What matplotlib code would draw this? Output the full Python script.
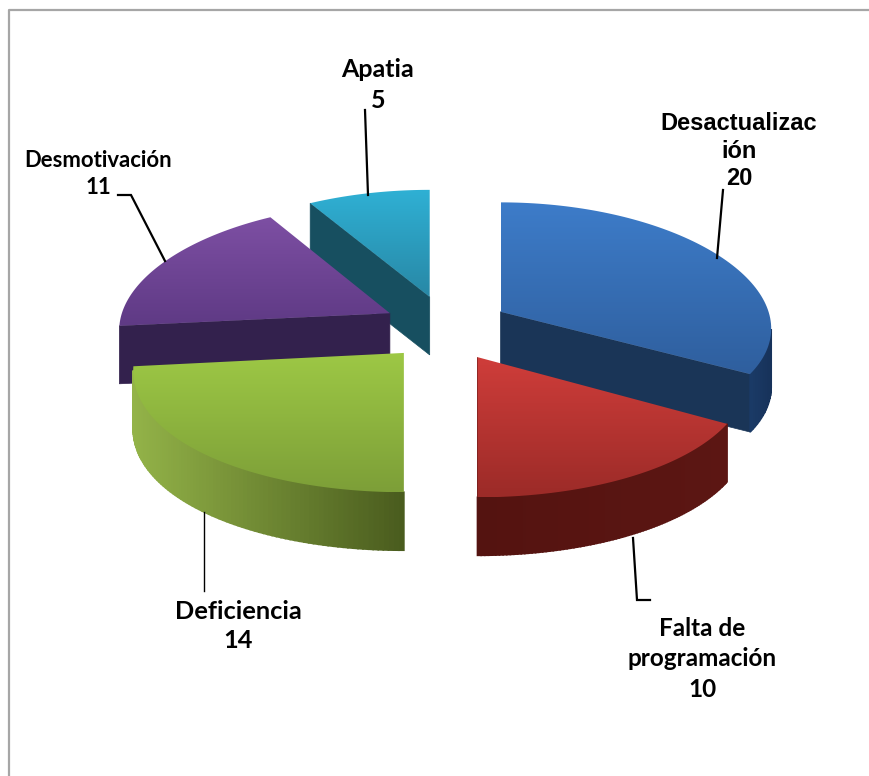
import numpy as np
import matplotlib
matplotlib.use('Agg')
import matplotlib.pyplot as plt
from matplotlib.colors import to_rgb, LinearSegmentedColormap
from matplotlib.patches import Polygon

categories = ['Desactualización', 'Falta de programación', 'Deficiencia', 'Desmotivación', 'Apatia']
values = [20, 10, 14, 11, 5]

# top surface (light, dark), wall at left and right end of the arc, flat cut wall
top_colors = [('#3d7cc9', '#2f5f9e'), ('#cf3d3a', '#9c2b28'), ('#9dc845', '#7d9f38'),
              ('#7d4fa3', '#5f3a85'), ('#2fb0d4', '#2888a6')]
arc_colors = [('#1a3a66', '#17325a'), ('#541310', '#5c1613'), ('#93b348', '#4a5c1e'),
              ('#33214d', '#33214d'), ('#174f60', '#174f60')]
cut_colors = ['#1a3557', '#5a1512', '#4a5c1e', '#33214d', '#174f60']

# label text, centre in pixels
label_text = ['Desactualizac\nión\n20', 'Falta de\nprogramación\n10', 'Deficiencia\n14', 'Desmotivación\n11', 'Apatia\n5']
label_pos = [(739, 151), (702, 659), (238, 626), (98, 174), (378, 85)]
label_size = [17, 17.5, 18.3, 15.9, 18]
label_space = [1.27, 1.4, 1.3, 1.3, 1.4]
leaders = [[(723, 190), (717, 258)],
           [(633, 538), (637, 600), (650, 600)],
           [(204, 512), (204, 591)],
           [(118, 195), (131, 195), (165, 261)],
           [(365, 110), (368, 195)]]
leader_lw = [1.6, 1.6, 1.0, 1.6, 1.6]

cx, cy = 446, 328
R, ry = 268, 122
k, kx = 0.09, 0.14
explode_x, explode_y = 0.235, 0.27
depth = 58

fig = plt.figure(figsize=(8.69, 7.76), dpi=100)
ax = fig.add_axes([0, 0, 1, 1])
ax.set_xlim(0, 869)
ax.set_ylim(776, 0)
ax.axis('off')

# frame of the screenshot
ax.plot([9, 9, 869], [776, 10, 10], color='#a6a6a6', lw=1.6)

# angles clockwise from the top
total = sum(values)
ends = np.cumsum(values) / total * 2 * np.pi
starts = ends - np.array(values) / total * 2 * np.pi
mids = (starts + ends) / 2


def wall(x0, y0, x1, y1, col, lw=0.0):
    # an edge shows if it runs leftwards on the clockwise outline
    if x1 < x0:
        ax.add_patch(Polygon([(x0, y0), (x1, y1), (x1, y1 + depth), (x0, y0 + depth)],
                             fc=col, ec=col, lw=lw, zorder=2))


for i in np.argsort(-np.cos(mids)):
    ey = explode_y * np.cos(mids[i])
    tx = cx + R * explode_x * np.sin(mids[i])
    ty = cy - ry * ey / (1 + k * ey)

    a = np.linspace(starts[i], ends[i], 90)
    dx, dy = np.sin(a), np.cos(a)
    px = tx + R * dx / (1 + kx * dy)
    py = cy - ry * (ey + dy) / (1 + k * (ey + dy))

    wall(tx, ty, px[0], py[0], cut_colors[i], 0.5)
    wall(px[-1], py[-1], tx, ty, cut_colors[i], 0.5)
    vis = np.where(np.diff(px) < 0)[0]
    if len(vis):
        xr, xl = px[vis].max(), px[vis].min()
        c0 = np.array(to_rgb(arc_colors[i][0]))
        c1 = np.array(to_rgb(arc_colors[i][1]))
        for j in vis:
            f = (xr - px[j]) / max(xr - xl, 1)
            wall(px[j], py[j], px[j + 1], py[j + 1], c1 * (1 - f) + c0 * f, 1.2)

    # top surface with a vertical gradient clipped to the slice
    outline = np.column_stack([np.r_[tx, px], np.r_[ty, py]])
    poly = Polygon(outline, fc='none', ec='none')
    ax.add_patch(poly)
    cmap = LinearSegmentedColormap.from_list('t', top_colors[i])
    im = ax.imshow(np.linspace(0, 1, 64).reshape(-1, 1), cmap=cmap, aspect='auto',
                   extent=(outline[:, 0].min(), outline[:, 0].max(), outline[:, 1].max(), outline[:, 1].min()),
                   zorder=2, interpolation='bilinear')
    im.set_clip_path(poly)

ax.set_xlim(0, 869)
ax.set_ylim(776, 0)

for pts, lw in zip(leaders, leader_lw):
    ax.plot(*zip(*pts), color='black', lw=lw, zorder=3, solid_joinstyle='miter')

for i, txt in enumerate(label_text):
    fam = 'Liberation Sans' if i == 0 else 'Lato'
    ax.text(label_pos[i][0], label_pos[i][1], txt, ha='center', va='center', fontsize=label_size[i],
            fontweight='bold', family=fam, color='black', linespacing=label_space[i], zorder=4)

fig.savefig('out.png', dpi=100, facecolor='white')
